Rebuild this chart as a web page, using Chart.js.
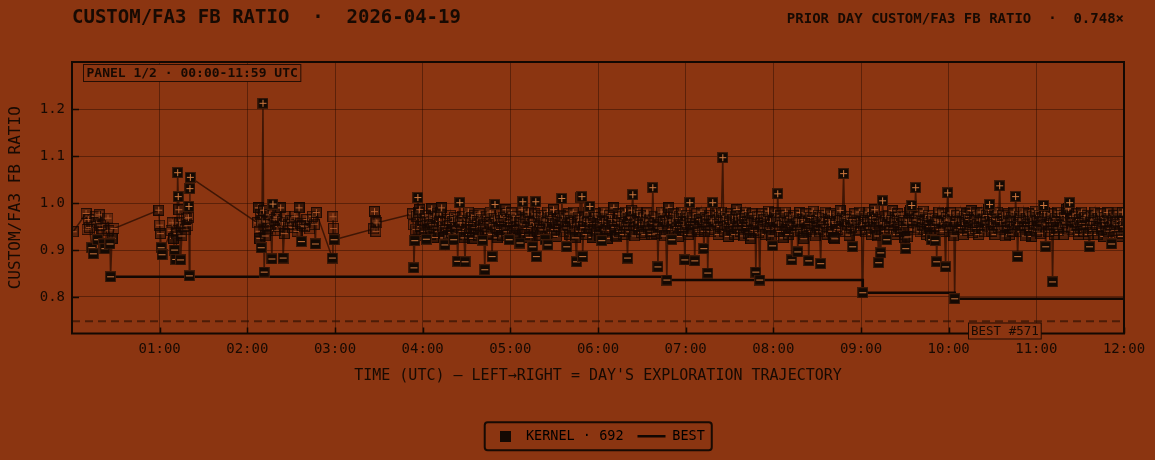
<!DOCTYPE html>
<html>
<head>
<meta charset="utf-8">
<script src="https://cdn.jsdelivr.net/npm/chart.js@4.4.1/dist/chart.umd.min.js"></script>
<style>
html, body { margin: 0; padding: 0; background: #8b3511; }
#wrap { width: 1155px; height: 460px; position: relative; }
</style>
</head>
<body>
<div id="wrap"><canvas id="fbChart"></canvas></div>
<script>
// ---- data ----
const hourTicks = [60, 120, 180, 240, 300, 360, 420, 480, 540, 600, 660, 720];
const hourLabels = ['01:00', '02:00', '03:00', '04:00', '05:00', '06:00', '07:00', '08:00', '09:00', '10:00', '11:00', '12:00'];
const ratioTicks = [0.8, 0.9, 1.0, 1.1, 1.2];
const priorDayRatio = 0.748;
const kernelTotal = 692;
const bestKernelNo = 571;

// running best (step line)
const bestMinute = [26.4, 407.1, 541.2, 604.1, 720];
const bestRatio = [0.843, 0.836, 0.809, 0.796, 0.796];

// kernel runs: minute of day, fb ratio
const kernelMinute = [
  0.8, 9.6, 10.3, 11.2, 12.0, 13.6, 14.6, 15.8, 16.6, 17.5,
  18.6, 19.5, 20.4, 21.6, 22.5, 24.6, 25.3, 26.0, 26.4, 27.4,
  28.7,
  59.4, 60.0, 60.5, 61.0, 61.6,
  67.8, 68.6, 69.4, 70.2, 71.0, 71.8, 72.3, 72.7, 73.1, 73.6,
  74.3, 75.2, 76.3, 77.4, 78.5, 79.3, 79.7, 80.0, 80.3, 80.7,
  81.0,
  127.0, 127.5, 128.0, 128.5, 129.0, 129.5, 130.0, 130.7, 131.1, 131.5,
  132.3, 133.2, 134.0, 135.0, 136.0, 136.8, 137.5, 138.3, 139.2, 140.3,
  141.5, 142.8, 144.0, 144.5, 145.3, 146.4, 148.0, 149.6, 151.0, 152.5,
  154.0, 155.4, 156.5, 157.0, 157.6, 159.0, 160.8, 162.7, 164.6, 165.8,
  166.6, 167.2, 178.2, 178.6, 179.0, 179.4,
  206.5, 207.0, 207.5, 208.0, 208.6,
  233.0, 233.6, 234.0, 234.6, 235.3, 236.0, 236.7, 237.3, 238.0, 238.7,
  239.4, 240.2, 241.0, 241.8, 242.5, 243.3, 244.1, 244.8, 245.5, 246.2,
  246.9, 247.7, 248.4, 249.2, 250.0, 250.7, 251.5, 252.3, 253.0, 253.7,
  254.4, 255.2, 255.9, 256.7, 257.4, 258.2, 259.0, 259.7, 260.5, 261.2,
  262.0, 262.7, 263.4, 264.0, 264.7, 265.4, 266.1, 266.9, 267.6, 268.3,
  269.0, 269.7, 270.5, 271.2, 272.0, 272.7, 273.5, 274.2, 275.0, 275.7,
  276.5, 277.2, 278.0, 278.7, 279.5, 280.2, 281.0, 281.7, 282.5, 283.2,
  284.0, 284.7, 285.5, 286.2, 287.0, 287.5, 288.2, 289.0, 289.5, 290.2,
  291.0, 291.7, 292.5, 293.2, 294.0, 294.7, 295.5, 296.2, 297.0, 297.7,
  298.5, 299.2, 300.0, 300.7, 301.5, 302.2, 303.0, 303.7, 304.5, 305.3,
  306.0, 306.6, 307.3, 308.0, 308.5, 309.2, 310.0, 310.7, 311.5, 312.2,
  313.0, 313.7, 314.5, 315.3, 316.0, 316.8, 317.4, 317.8, 318.5, 319.3,
  320.0, 320.8, 321.5, 322.3, 323.0, 323.8, 324.5, 325.3, 325.7, 326.4,
  327.2, 328.0, 328.7, 329.5, 330.2, 331.0, 331.8, 332.5, 333.3, 334.0,
  334.7, 335.2, 335.9, 336.7, 337.4, 338.0, 338.6, 339.3, 340.0, 340.8,
  341.5, 342.3, 343.0, 343.8, 344.5, 345.3, 345.9, 346.6, 347.3, 347.8,
  348.3, 349.0, 349.5, 350.2, 351.0, 351.8, 352.5, 353.2, 353.9, 354.4,
  355.1, 355.9, 356.6, 357.4, 358.1, 358.9, 359.6, 360.4, 361.1, 361.9,
  362.6, 363.3, 364.1, 364.8, 365.6, 366.3, 367.1, 367.8, 368.6, 369.3,
  370.1, 370.8, 371.5, 372.3, 372.8, 373.5, 374.3, 375.0, 375.8, 376.5,
  377.3, 378.0, 378.8, 379.5, 380.2, 380.9, 381.7, 382.4, 383.1, 383.8,
  384.5, 385.3, 386.0, 386.8, 387.5, 388.3, 389.0, 389.8, 390.5, 391.3,
  392.0, 392.8, 393.5, 394.3, 395.0, 395.8, 396.8, 397.5, 398.2, 399.0,
  399.7, 400.5, 401.0, 401.7, 402.5, 403.2, 404.0, 404.7, 405.5, 406.2,
  407.1, 407.8, 408.5, 409.2, 410.0, 410.5, 411.2, 412.0, 412.7, 413.5,
  414.2, 415.0, 415.7, 416.5, 417.2, 418.0, 418.7, 419.4, 420.1, 420.9,
  421.6, 422.3, 422.8, 423.5, 424.3, 425.0, 425.7, 426.2, 426.9, 427.7,
  428.4, 429.0, 429.8, 430.5, 431.3, 432.0, 432.4, 433.1, 433.9, 434.6,
  435.1, 435.8, 436.6, 437.3, 438.0, 438.5, 439.2, 440.0, 440.7, 441.5,
  442.2, 443.0, 443.7, 444.5, 445.4, 446.0, 446.8, 447.5, 448.3, 449.0,
  449.8, 450.5, 451.3, 452.0, 452.8, 453.5, 454.3, 455.0, 455.8, 456.5,
  457.3, 458.0, 458.8, 459.5, 460.3, 461.0, 461.8, 462.5, 463.3, 464.0,
  464.5, 465.2, 466.0, 466.7, 467.4, 468.0, 468.7, 469.4, 470.0, 470.7,
  471.4, 472.1, 472.9, 473.6, 474.4, 475.1, 475.9, 476.6, 477.4, 478.1,
  478.9, 479.5, 480.2, 481.0, 481.7, 482.5, 483.0, 483.7, 484.5, 485.2,
  486.0, 486.7, 487.5, 488.2, 489.0, 489.7, 490.5, 491.2, 492.0, 492.6,
  493.3, 494.1, 494.8, 495.6, 496.3, 496.7, 497.4, 498.2, 498.9, 499.7,
  500.4, 500.8, 501.5, 502.3, 503.0, 503.8, 504.2, 504.9, 505.7, 506.4,
  507.2, 507.9, 508.7, 509.4, 510.2, 510.9, 511.7, 512.4, 513.1, 513.9,
  514.6, 515.4, 516.1, 516.9, 517.6, 518.4, 519.1, 519.9, 520.6, 521.4,
  522.0, 522.7, 523.5, 524.2, 525.0, 525.7, 526.5, 527.2, 528.1, 528.8,
  529.6, 530.3, 531.1, 531.8, 532.6, 533.3, 534.3, 535.0, 535.8, 536.5,
  537.3, 538.0, 538.8, 539.5, 540.3, 541.2, 541.9, 542.7, 543.4, 544.2,
  544.9, 545.7, 546.4, 547.2, 547.9, 548.7, 549.4, 550.2, 550.9, 551.5,
  552.1, 552.8, 553.5, 554.2, 554.8, 555.5, 556.3, 557.0, 557.6, 558.3,
  559.1, 559.8, 560.6, 561.3, 562.1, 562.8, 563.6, 564.3, 565.1, 565.8,
  566.6, 567.3, 568.1, 568.8, 569.4, 570.1, 570.6, 571.3, 572.0, 572.7,
  573.4, 574.0, 574.7, 575.4, 576.1, 576.8, 577.4, 578.1, 578.9, 579.6,
  580.4, 581.1, 581.9, 582.6, 583.4, 584.1, 584.9, 585.6, 586.4, 587.1,
  587.9, 588.4, 589.1, 589.9, 590.7, 591.3, 591.8, 592.5, 593.3, 594.0,
  594.8, 595.5, 596.3, 597.0, 597.9, 598.6, 599.3, 600.0, 600.8, 601.5,
  602.3, 603.0, 603.6, 604.1, 604.8, 605.6, 606.3, 607.1, 607.8, 608.6,
  609.3, 610.1, 610.8, 611.6, 612.3, 613.1, 613.8, 614.6, 615.3, 616.1,
  616.8, 617.6, 618.3, 619.1, 619.8, 620.6, 621.3, 622.1, 622.8, 623.6,
  624.3, 625.1, 625.8, 626.6, 627.3, 628.0, 628.7, 629.5, 630.2, 631.0,
  631.7, 632.5, 633.2, 634.0, 634.9, 635.6, 636.4, 637.1, 637.9, 638.6,
  639.4, 640.1, 640.9, 641.7, 642.4, 643.2, 643.9, 644.7, 645.3, 645.8,
  646.5, 647.2, 647.9, 648.7, 649.4, 650.2, 650.9, 651.7, 652.4, 653.2,
  653.9, 654.7, 655.4, 656.2, 656.9, 657.7, 658.4, 659.2, 659.9, 660.7,
  661.4, 662.2, 662.9, 663.7, 664.4, 665.0, 665.6, 666.4, 667.1, 667.9,
  668.6, 669.4, 670.1, 670.6, 671.1, 671.8, 672.5, 673.3, 674.0, 674.8,
  675.5, 676.3, 677.0, 677.8, 678.5, 679.3, 680.0, 680.8, 681.5, 682.1,
  682.8, 683.5, 684.3, 685.0, 685.8, 686.5, 687.3, 688.0, 688.8, 689.5,
  690.3, 691.0, 691.8, 692.5, 693.3, 694.0, 694.8, 695.5, 696.4, 697.1,
  697.9, 698.6, 699.4, 700.1, 700.9, 701.6, 702.4, 703.1, 703.9, 704.6,
  705.4, 706.1, 706.9, 707.6, 708.4, 709.1, 709.9, 710.6, 711.5, 712.2,
  713.0, 713.7, 714.5, 715.2, 716.0, 716.7, 717.5, 718.2, 719.0, 719.7
];

const kernelRatio = [
  .939, .978, .944, .965, .948, .905, .892, .972, .958, .922,
  .975, .953, .946, .913, .903, .968, .941, .913, .843, .925,
  .946,
  .985, .953, .935, .905, .890,
  .942, .958, .925, .900, .880, .935, 1.065, 1.014, .986, .958,
  .879, .930, .951, .943, .968, .952, .969, .993, .845, 1.031,
  1.055,
  .958, .990, .940, .925, .975, .905, .962, 1.213, .985, .853,
  .930, .960, .945, .975, .955, .881, .998, .965, .942, .970,
  .950, .990, .960, .883, .935, .972, .955, .962, .948, .972,
  .940, .990, .957, .918, .952, .950, .965, .945, .972, .955,
  .913, .980, .883, .971, .946, .922,
  .945, .982, .962, .940, .958,
  .977, .954, .862, .920, .944, .972, 1.012, .981, .986, .950,
  .930, .964, .940, .974, .923, .958, .943, .968, .933, .988,
  .954, .972, .927, .947, .977, .939, .961, .981, .990, .950,
  .926, .911, .942, .965, .930, .957, .974, .937, .961, .922,
  .969, .947, .934, .876, .964, 1.001, .958, .939, .972, .926,
  .875, .944, .964, .981, .933, .957, .969, .925, .948, .974,
  .940, .961, .930, .977, .950, .966, .921, .954, .858, .943,
  .972, .936, .958, .981, .933, .886, .954, .968, .997, .947,
  .926, .964, .944, .977, .957, .930, .970, .947, .986, .939,
  .961, .922, .954, .979, .942, .964, .930, .972, .948, .924,
  .958, .915, .964, .986, 1.003, .954, .933, .969, .946, .981,
  .927, .961, .950, .907, .958, .977, 1.003, .886, .940, .969,
  .951, .932, .974, .943, .964, .922, .958, .981, .911, .947,
  .970, .937, .961, .986, .944, .957, .929, .968, .950, .974,
  .958, 1.010, .964, .939, .972, .947, .907, .954, .977, .933,
  .964, .944, .981, .954, .926, .875, .958, .970, .940, 1.012,
  .964, 1.014, .886, .948, .972, .933, .961, .981, .946, .993,
  .957, .927, .969, .948, .977, .937, .958, .970, .930, .954,
  .920, .961, .981, .943, .964, .925, .954, .974, .942, .965,
  .957, .990, .948, .930, .928, .964, .977, .940, .958, .972,
  .933, .954, .981, .947, .883, .961, .939, .970, .985, 1.018,
  .954, .930, .964, .981, .944, .960, .974, .937, .955, .969,
  .933, .958, .979, .947, .964, .940, .933, 1.033, .957, .972,
  .936, .954, .864, .947, .969, .981, .943, .961, .930, .964,
  .836, .954, .990, .964, .944, .922, .958, .977, .939, .968,
  .948, .929, .972, .954, .981, .942, .961, .879, .951, .974,
  .933, .964, 1.001, .957, .940, .970, .950, .877, .954, .977,
  .944, .940, .965, .981, .947, .958, .903, .940, .969, .954,
  .851, .947, .974, .939, .962, 1.001, .964, .944, .979, .954,
  .933, .969, .950, .981, 1.097, .964, .940, .972, .953, .929,
  .961, .977, .944, .965, .954, .933, .972, .986, .947, .964,
  .940, .974, .955, .930, .968, .981, .948, .961, .936, .970,
  .924, .958, .977, .942, .964, .853, .954, .972, .937, .836,
  .957, .977, .947, .965, .933, .972, .954, .983, .943, .961,
  .930, .909, .964, .979, .947, .968, 1.020, .958, .940, .973,
  .953, .926, .964, .981, .944, .958, .933, .969, .950, .879,
  .954, .974, .939, .964, .947, .896, .958, .980, .942, .965,
  .933, .924, .961, .977, .944, .957, .877, .950, .970, .940,
  .983, .954, .930, .964, .947, .974, .939, .871, .958, .969,
  .943, .981, .951, .934, .965, .958, .977, .940, .961, .927,
  .924, .957, .974, .944, .964, .984, .950, .968, 1.063, .961,
  .940, .972, .954, .932, .965, .947, .907, .958, .977, .942,
  .964, .953, .981, .944, .961, .809, .954, .972, .939, .962,
  .981, .947, .964, .933, .969, .954, .986, .943, .961, .930,
  .873, .955, .894, .964, 1.005, .958, .940, .972, .922, .954,
  .974, .947, .964, .984, .939, .958, .969, .933, .977, .951,
  .961, .940, .972, .950, .964, .926, .903, .958, .928, .964,
  .981, .985, .995, .958, .943, .972, 1.033, .964, .947, .977,
  .939, .961, .954, .983, .944, .966, .933, .957, .974, .950,
  .930, .922, .968, .950, .920, .958, .875, .964, .981, .944,
  .961, .977, .940, .958, .864, .969, 1.022, .964, .947, .979,
  .940, .961, .930, .796, .954, .974, .943, .964, .981, .948,
  .961, .933, .972, .954, .977, .942, .965, .947, .984, .937,
  .958, .969, .946, .979, .954, .933, .964, .981, .947, .966,
  .939, .958, .974, .950, .986, .997, .961, .940, .972, .954,
  .933, .965, .981, .947, 1.037, .961, .943, .974, .954, .930,
  .964, .947, .977, .933, .958, .969, .940, .981, .950, 1.014,
  .961, .886, .954, .972, .939, .964, .981, .947, .930, .968,
  .954, .977, .942, .961, .929, .972, .950, .983, .940, .964,
  .947, .974, .936, .958, .969, .995, .980, .907, .954, .972,
  .940, .961, .977, .947, .832, .957, .933, .968, .947, .981,
  .942, .961, .974, .951, .933, .969, .958, .986, .943, .988,
  1.001, .964, .947, .972, .939, .958, .977, .954, .933, .965,
  .947, .981, .957, .940, .969, .950, .974, .933, .907, .958,
  .972, .942, .964, .981, .950, .933, .968, .954, .977, .944,
  .961, .929, .969, .954, .980, .940, .964, .947, .913, .958,
  .974, .942, .964, .954, .981, .936, .961, .929, .981, .950
];

if (kernelMinute.length !== kernelRatio.length) console.warn('length mismatch', kernelMinute.length, kernelRatio.length);

// ---- look ----
const mono = '"DejaVu Sans Mono", "Liberation Mono", monospace';
const bgColor = '#8b3511';
const ink = '#170a03';
const gridColor = 'rgba(28,8,0,0.42)';
const bestColor = '#120702';
const bandCenter = 0.958;

// marker squares with +/− glyph, more opaque the further from the band
const alphaLevels = [0.3, 0.42, 0.55, 0.68, 0.82, 1];
function makeMarker(plus, a) {
    var c = document.createElement('canvas');
    c.width = 11; c.height = 11;
    var g = c.getContext('2d');
    g.fillStyle = 'rgba(20,9,3,' + (a >= 1 ? 1 : a * 0.85) + ')';
    g.fillRect(0, 0, 11, 11);
    g.strokeStyle = a >= 1 ? 'rgba(62,26,8,1)' : 'rgba(22,8,2,' + (0.65 + 0.35 * a) + ')';
    g.lineWidth = 1;
    g.strokeRect(0.5, 0.5, 10, 10);
    g.strokeStyle = a >= 1 ? 'rgb(205,118,60)' : 'rgba(196,100,48,' + (0.6 + 0.4 * a) + ')';
    g.beginPath();
    g.moveTo(2, 5.5); g.lineTo(9, 5.5);
    if (plus) { g.moveTo(5.5, 2); g.lineTo(5.5, 9); }
    g.stroke();
    return c;
}
const plusMarks = alphaLevels.map(a => makeMarker(true, a));
const minusMarks = alphaLevels.map(a => makeMarker(false, a));

const legendSquare = document.createElement('canvas');
legendSquare.width = 11; legendSquare.height = 11;
(function () {
    var g = legendSquare.getContext('2d');
    g.fillStyle = '#140903';
    g.fillRect(0, 0, 11, 11);
})();

function markerLevel(v) {
    var d = Math.abs(v - bandCenter);
    var a = (d - 0.016) / 0.02;
    a = Math.max(0, Math.min(1, a));
    return Math.round(a * 5);
}
function markerFor(ctx) {
    if (!ctx.raw) return 'rect';
    var v = ctx.raw.y;
    var lv = markerLevel(v);
    return v >= bandCenter ? plusMarks[lv] : minusMarks[lv];
}

const kernelPoints = kernelMinute.map((m, i) => ({x: m, y: kernelRatio[i]}));
const faintPoints = kernelPoints.filter(p => markerLevel(p.y) < 5);
const strongPoints = kernelPoints.filter(p => markerLevel(p.y) === 5);
const bestPoints = bestMinute.map((m, i) => ({x: m, y: bestRatio[i]}));
const priorPoints = [{x: 0, y: priorDayRatio}, {x: 720, y: priorDayRatio}];

const decor = {
    id: 'decor',
    afterDraw(chart) {
        const ctx = chart.ctx;
        const a = chart.chartArea;
        const xs = chart.scales.x, ys = chart.scales.y;
        ctx.save();

        // frame
        ctx.strokeStyle = '#120802';
        ctx.lineWidth = 2;
        ctx.strokeRect(a.left, a.top, a.right - a.left, a.bottom - a.top);

        // inward tick marks
        ctx.lineWidth = 1.5;
        ctx.beginPath();
        hourTicks.forEach(m => {
            const px = Math.round(xs.getPixelForValue(m)) + 0.5;
            ctx.moveTo(px, a.bottom); ctx.lineTo(px, a.bottom - 6);
        });
        ratioTicks.forEach(v => {
            const py = Math.round(ys.getPixelForValue(v)) + 0.5;
            ctx.moveTo(a.left, py); ctx.lineTo(a.left + 7, py);
        });
        ctx.stroke();

        // panel label
        ctx.font = 'bold 13px ' + mono;
        ctx.textBaseline = 'middle';
        ctx.textAlign = 'left';
        const panelText = 'PANEL 1/2 · 00:00-11:59 UTC';
        const pw = ctx.measureText(panelText).width;
        ctx.fillStyle = bgColor;
        ctx.fillRect(a.left + 11.5, a.top + 2.5, pw + 6, 17);
        ctx.strokeStyle = 'rgba(20,8,2,0.85)';
        ctx.lineWidth = 1;
        ctx.strokeRect(a.left + 11.5, a.top + 2.5, pw + 6, 17);
        ctx.fillStyle = ink;
        ctx.fillText(panelText, a.left + 14.5, a.top + 11.5);

        // best label
        ctx.font = '12.5px ' + mono;
        const bestText = 'BEST #' + bestKernelNo;
        const bw = ctx.measureText(bestText).width;
        const bx = Math.round(xs.getPixelForValue(bestMinute[bestMinute.length - 2])) + 13.5;
        const by = a.bottom - 10.5;
        ctx.fillStyle = bgColor;
        ctx.fillRect(bx, by, bw + 5, 16);
        ctx.strokeStyle = 'rgba(20,8,2,0.9)';
        ctx.strokeRect(bx, by, bw + 5, 16);
        ctx.fillStyle = ink;
        ctx.fillText(bestText, bx + 2.5, by + 8.5);

        // legend frame
        const hb = chart.legend.legendHitBoxes;
        if (hb && hb.length) {
            const l = Math.min(...hb.map(h => h.left)) - 6.5;
            const r = Math.max(...hb.map(h => h.left + h.width)) + 7;
            const cy = hb[0].top + hb[0].height / 2;
            ctx.strokeStyle = '#170a03';
            ctx.lineWidth = 2;
            ctx.beginPath();
            ctx.roundRect(l, cy - 14, r - l, 28, 3);
            ctx.stroke();
        }

        // headers
        ctx.fillStyle = ink;
        ctx.font = 'bold 19px ' + mono;
        ctx.textAlign = 'left';
        ctx.fillText('CUSTOM/FA3 FB RATIO  ·  2026-04-19', a.left, 18);
        ctx.font = 'bold 14px ' + mono;
        ctx.textAlign = 'right';
        ctx.fillText('PRIOR DAY CUSTOM/FA3 FB RATIO  ·  ' + priorDayRatio.toFixed(3) + '×', a.right, 19);

        ctx.restore();
    }
};

const ctxEl = document.getElementById('fbChart');
const fbChart = new Chart(ctxEl, {
    type: 'scatter',
    data: {
        datasets: [{
            label: 'trajectory',
            data: kernelPoints,
            showLine: true,
            borderColor: 'rgba(38,12,2,0.75)',
            borderWidth: 1.5,
            pointRadius: 0,
            order: 4
        }, {
            label: 'prior day',
            data: priorPoints,
            showLine: true,
            borderColor: 'rgba(35,12,2,0.6)',
            borderWidth: 2,
            borderDash: [8, 5],
            pointRadius: 0,
            order: 5
        }, {
            label: 'BEST',
            data: bestPoints,
            showLine: true,
            stepped: 'before',
            borderColor: bestColor,
            borderWidth: 2.6,
            pointRadius: 0,
            order: 3
        }, {
            label: 'kernel faint',
            data: faintPoints,
            pointStyle: markerFor,
            pointRadius: 5.5,
            order: 2
        }, {
            label: 'kernel strong',
            data: strongPoints,
            pointStyle: markerFor,
            pointRadius: 5.5,
            order: 1
        }]
    },
    options: {
        responsive: true,
        maintainAspectRatio: false,
        animation: false,
        events: [],
        layout: {padding: {top: 62, right: 31, bottom: 7, left: 0}},
        scales: {
            x: {
                type: 'linear',
                min: 0,
                max: 720,
                afterBuildTicks: s => { s.ticks = hourTicks.map(v => ({value: v})); },
                afterFit: s => { s.height = 82; },
                grid: {color: gridColor, lineWidth: 1, drawTicks: false},
                border: {display: false},
                ticks: {
                    color: ink,
                    font: {family: mono, size: 14},
                    padding: 7,
                    maxRotation: 0,
                    autoSkip: false,
                    callback: (v, i) => hourLabels[i]
                },
                title: {
                    display: true,
                    text: 'TIME (UTC) — LEFT→RIGHT = DAY\'S EXPLORATION TRAJECTORY',
                    color: ink,
                    font: {family: mono, size: 15},
                    padding: {top: 0, bottom: 30}
                }
            },
            y: {
                min: 0.722,
                max: 1.301,
                afterBuildTicks: s => { s.ticks = ratioTicks.map(v => ({value: v})); },
                afterFit: s => { s.width = 72; },
                grid: {color: gridColor, lineWidth: 1, drawTicks: false},
                border: {display: false},
                ticks: {
                    color: ink,
                    font: {family: mono, size: 14},
                    padding: 7,
                    callback: v => v.toFixed(1)
                },
                title: {
                    display: true,
                    text: 'CUSTOM/FA3 FB RATIO',
                    color: ink,
                    font: {family: mono, size: 16},
                    padding: {top: 6, bottom: 0}
                }
            }
        },
        plugins: {
            tooltip: {enabled: false},
            legend: {
                position: 'bottom',
                fullSize: false,
                align: 'center',
                labels: {
                    usePointStyle: true,
                    pointStyleWidth: 28,
                    padding: 14,
                    color: ink,
                    font: {family: mono, size: 13.5},
                    generateLabels: () => [{
                        text: 'KERNEL · ' + kernelTotal,
                        pointStyle: legendSquare,
                        fillStyle: '#140903',
                        strokeStyle: '#140903',
                        lineWidth: 0,
                        hidden: false
                    }, {
                        text: 'BEST',
                        pointStyle: 'line',
                        fillStyle: 'rgba(0,0,0,0)',
                        strokeStyle: bestColor,
                        lineWidth: 2.5,
                        hidden: false
                    }]
                }
            }
        }
    },
    plugins: [decor]
});
</script>
</body>
</html>
